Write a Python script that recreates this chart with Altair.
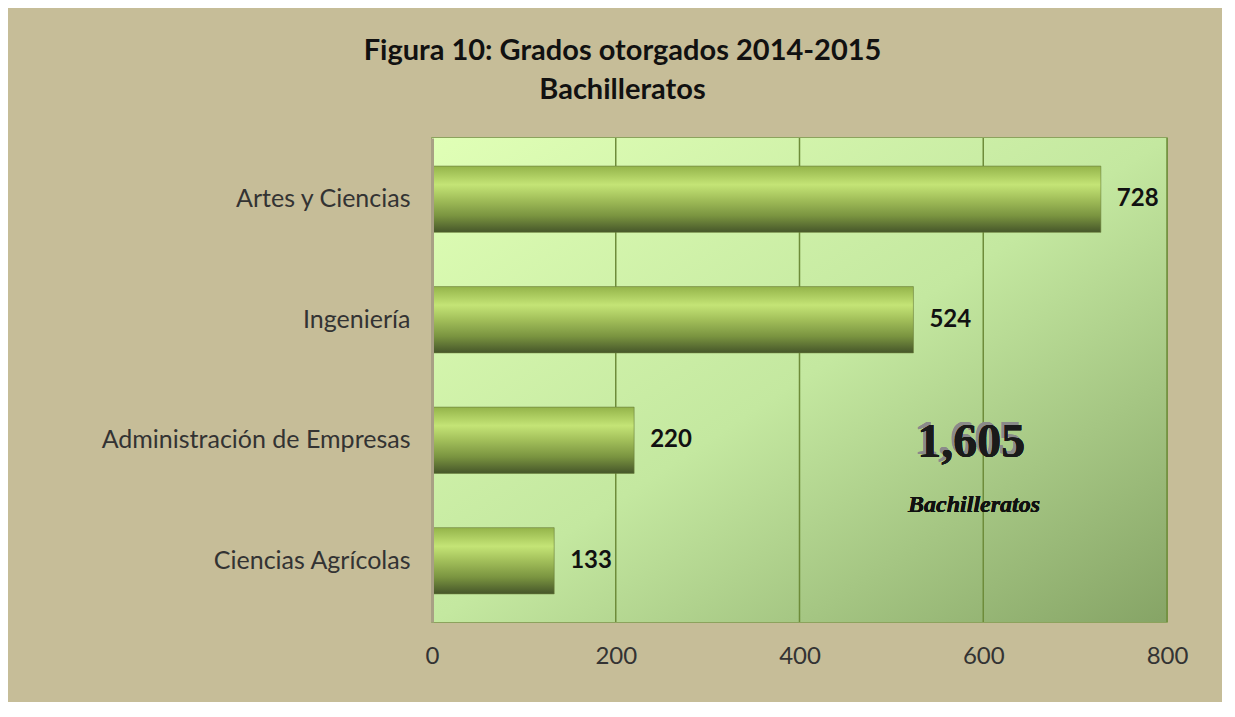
import altair as alt
import pandas as pd

categories = ["Artes y Ciencias", "Ingeniería", "Administración de Empresas", "Ciencias Agrícolas"]
values = [728, 524, 220, 133]
x_ticks = [0, 200, 400, 600, 800]
grid_vals = [200, 400, 600, 800]
total_label = "1,605"
total_sub = "Bachilleratos"

df = pd.DataFrame({"cat": categories, "val": values})
grid_df = pd.DataFrame({"g": grid_vals})

bar_grad = alt.LinearGradient(
    gradient="linear",
    stops=[
        alt.GradientStop(color="#94b44a", offset=0),
        alt.GradientStop(color="#c4e476", offset=0.28),
        alt.GradientStop(color="#a2bf5a", offset=0.5),
        alt.GradientStop(color="#7a9440", offset=0.75),
        alt.GradientStop(color="#46562a", offset=1),
    ],
    x1=0, x2=0, y1=0, y2=1,
)

bg_grad = alt.LinearGradient(
    gradient="linear",
    stops=[
        alt.GradientStop(color="#e0ffb6", offset=0),
        alt.GradientStop(color="#c4e8a0", offset=0.5),
        alt.GradientStop(color="#86a466", offset=1),
    ],
    x1=0, x2=1, y1=0, y2=1,
)

xscale = alt.Scale(domain=[0, 800])
yscale = alt.Scale(paddingInner=0.45, paddingOuter=0.233)

bg = alt.Chart(grid_df).mark_rect(color=bg_grad).encode(
    x=alt.datum(0, scale=xscale), x2=alt.datum(800),
    y=alt.value(0), y2=alt.value(484),
)

grid = alt.Chart(grid_df).mark_rule(color="#6e8c3a", strokeWidth=1.5).encode(
    x=alt.X("g:Q", scale=xscale),
)

base = alt.Chart(df)

bars = base.mark_bar(color=bar_grad, stroke="#6a7e3a", strokeWidth=0.6).encode(
    x=alt.X("val:Q", scale=xscale,
            axis=alt.Axis(values=x_ticks, title=None, grid=False,
                          domain=False, ticks=False, labelFont="Lato",
                          labelFontSize=24, labelColor="#333333", labelPadding=22,
                          labelFlush=False)),
    y=alt.Y("cat:N", sort=categories, scale=yscale,
            axis=alt.Axis(title=None, ticks=False, domainColor="#a8a084", domainWidth=3,
                          labelFont="Lato", labelFontSize=25, labelColor="#333333",
                          labelPadding=22, labelLimit=0, zindex=1)),
)

labels = base.mark_text(align="left", baseline="middle", dx=16, font="Lato",
                        fontSize=24, fontWeight="bold", color="#111111").encode(
    x=alt.X("val:Q", scale=xscale),
    y=alt.Y("cat:N", sort=categories, scale=yscale),
    text=alt.Text("val:Q", format="d"),
)

shadow = alt.Chart(grid_df).mark_text(font="Liberation Serif", fontSize=48, fontWeight="bold",
                                      color="#8a8a8a", dx=-3, dy=0).encode(
    x=alt.datum(587), y=alt.datum(categories[2]), text=alt.value(total_label))
front = alt.Chart(grid_df).mark_text(font="Liberation Serif", fontSize=48, fontWeight="bold",
                                     color="#1a1a1a", dx=0, dy=3).encode(
    x=alt.datum(587), y=alt.datum(categories[2]), text=alt.value(total_label))
sub = alt.Chart(grid_df).mark_text(font="Liberation Serif", fontSize=24, fontWeight="bold",
                                   fontStyle="italic", color="#111111", dy=65).encode(
    x=alt.datum(590), y=alt.datum(categories[2]), text=alt.value(total_sub))

chart = alt.layer(bg, grid, bars, labels, shadow, front, sub).properties(
    width=735, height=484,
    autosize=alt.AutoSizeParams(type="none"),
    padding={"left": 424, "top": 130, "right": 55, "bottom": 80},
    background="#c6bd98",
    title=alt.TitleParams(
        text=["Figura 10: Grados otorgados 2014-2015", "Bachilleratos"],
        font="Lato", fontSize=29, fontWeight="bold", color="#111111",
        anchor="middle", dx=-177, offset=32, lineHeight=39,
    ),
).configure_view(stroke="#7a9a4a", strokeWidth=1.5)

chart.save("out.html", embed_options={"renderer": "svg", "actions": False})
